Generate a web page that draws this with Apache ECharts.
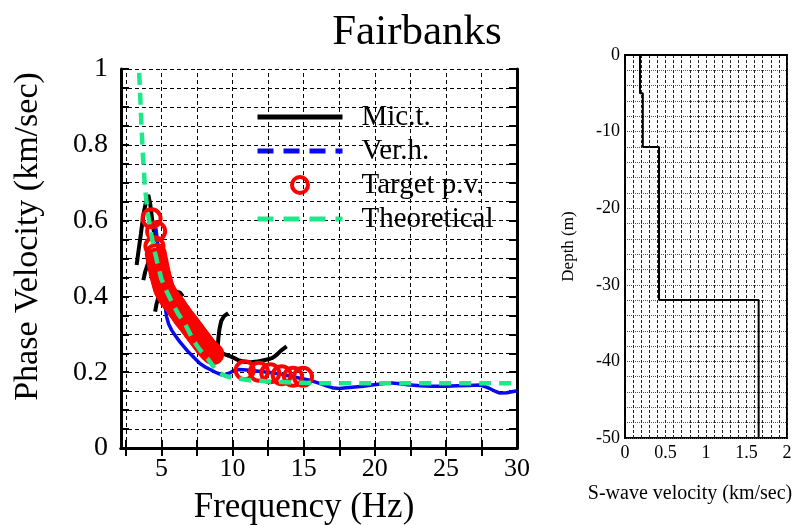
<!DOCTYPE html>
<html><head><meta charset="utf-8">
<script src="https://cdn.jsdelivr.net/npm/echarts@6/dist/echarts.min.js"></script>
<style>html,body{margin:0;padding:0;background:#fff}#c{width:798px;height:525px}</style>
</head><body><div id="c"></div><script>
const FONT = '"Liberation Serif", "DejaVu Serif", "Times New Roman", serif';

// ---- Phase velocity panel data (frequency Hz, km/sec) ----
const micSegA = [[3.25,0.483],[3.4,0.525],[3.55,0.565],[3.72,0.615],[3.9,0.648],[4.07,0.668],[4.2,0.645],[4.35,0.6],[4.5,0.56]];
const micSegB = [[3.72,0.443],[3.85,0.465],[4.0,0.482],[4.15,0.498],[4.35,0.51]];
const micSegC = [[4.55,0.36],[4.65,0.38],[4.8,0.4],[5.2,0.41],[5.8,0.415],[6.3,0.41],[6.5,0.4]];
const micSegD = [[8.95,0.265],[9.0,0.29],[9.08,0.315],[9.2,0.335],[9.4,0.348],[9.69,0.356]];
const micSegE = [[8.6,0.253],[9.0,0.252],[9.4,0.248],[9.9,0.241],[10.4,0.232],[10.9,0.227],[11.3,0.226],[11.7,0.228],[12.1,0.231],[12.5,0.234],[12.8,0.238],[13.1,0.246],[13.4,0.257],[13.8,0.268]];
const verH = [[4.6,0.58],[4.7,0.55],[4.8,0.515],[4.9,0.48],[5.0,0.445],[5.1,0.41],[5.24,0.377],[5.36,0.346],[5.5,0.327],[5.71,0.311],[6.0,0.295],[6.29,0.28],[6.6,0.266],[6.88,0.254],[7.3,0.238],[7.7,0.223],[8.1,0.213],[8.52,0.205],[8.9,0.198],[9.22,0.193],[9.5,0.194],[9.8,0.198],[10.15,0.206],[10.5,0.207],[11,0.206],[11.5,0.204],[12,0.202],[12.5,0.2],[13,0.197],[13.5,0.194],[14,0.19],[14.5,0.186],[15,0.182],[15.5,0.178],[16,0.172],[16.6,0.164],[17.1,0.158],[17.5,0.157],[18,0.159],[18.6,0.161],[19.2,0.163],[19.8,0.166],[20.4,0.169],[21.0,0.172],[21.6,0.17],[22.3,0.167],[23.2,0.164],[24,0.163],[25,0.163],[25.8,0.164],[26.6,0.165],[27.4,0.166],[27.9,0.16],[28.4,0.151],[28.8,0.145],[29.3,0.146],[30,0.151]];
const targetPV = [[4.3,0.606],[4.62,0.572],[4.5,0.532],[4.6,0.512],[4.66,0.5],
 [4.72,0.49],[4.78,0.478],[4.85,0.466],[4.92,0.455],[5.0,0.444],[5.08,0.432],[5.16,0.422],[5.25,0.414],[5.34,0.408],[5.44,0.402],[5.54,0.396],[5.64,0.391],[5.74,0.386],[5.84,0.382],[5.94,0.378],[6.04,0.372],[6.14,0.366],[6.24,0.361],[6.34,0.356],[6.44,0.35],[6.54,0.345],[6.64,0.34],[6.74,0.336],[6.84,0.331],[6.94,0.326],[7.04,0.321],[7.14,0.316],[7.24,0.311],[7.34,0.306],[7.44,0.301],[7.54,0.296],[7.64,0.291],[7.74,0.286],[7.84,0.281],[7.94,0.276],[8.04,0.271],[8.14,0.266],[8.24,0.262],[8.34,0.258],[8.44,0.254],[8.54,0.251],[8.64,0.248],
 [10.85,0.205],[11.85,0.201],[12.65,0.197],[13.45,0.192],[14.25,0.188],[14.95,0.188]];
const theoretical = [[3.43,0.99],[3.5,0.93],[3.6,0.84],[3.7,0.765],[3.83,0.69],[4.0,0.63],[4.2,0.58],[4.45,0.53],[4.7,0.49],[5.0,0.445],[5.4,0.41],[5.8,0.38],[6.2,0.352],[6.69,0.325],[7.2,0.287],[7.46,0.272],[7.7,0.259],[8.28,0.234],[8.75,0.21],[9.0,0.2],[9.5,0.19],[10.2,0.184],[11.2,0.179],[12.3,0.176],[13.5,0.174],[14.6,0.172],[16,0.171],[18,0.171],[20,0.171],[22,0.171],[24,0.171],[26,0.171],[28,0.171],[30,0.171]];
const freqGridValues = [2.5,5,7.5,10,12.5,15,17.5,20,22.5,25,27.5];
const freqLabelValues = [5,10,15,20,25,30];

// ---- S-wave profile (km/sec, depth m) ----
const layerVs = [0.185, 0.22, 0.42, 1.65];
const layerTops = [0, -5, -12, -32];
const profileBottom = -50;

const profile = [];
for (let i = 0; i < layerVs.length; i++) {
  const bot = i + 1 < layerTops.length ? layerTops[i + 1] : profileBottom;
  profile.push([layerVs[i], layerTops[i]], [layerVs[i], bot]);
}

const isMult = (v, s) => Math.abs(v / s - Math.round(v / s)) < 1e-6;
const fmt = v => String(Math.round(v * 100) / 100);
const black = '#000';
const GREEN = '#1ee88a';
const BLUE = '#0a0af0';
const hideSym = { opacity: 0, color: 'rgba(0,0,0,0)', borderWidth: 0 };

const micSeries = [micSegA, micSegB, micSegC, micSegD, micSegE].map(seg => ({
  name: 'Mic.t.', type: 'line', xAxisIndex: 0, yAxisIndex: 0, data: seg, symbol: 'none',
  lineStyle: { color: black, width: 4 }, itemStyle: { color: black }, z: 3
}));

const chart = echarts.init(document.getElementById('c'), null, { renderer: 'canvas' });
chart.setOption({
  animation: false,
  backgroundColor: '#fff',
  title: {
    text: 'Fairbanks', left: 412, top: 6, textAlign: 'center',
    textStyle: { fontFamily: FONT, fontSize: 43, fontWeight: 'normal', color: black }
  },
  legend: {
    left: 250, top: 97, orient: 'vertical', itemWidth: 85, itemHeight: 16, itemGap: 4,
    selectedMode: false,
    textStyle: { fontFamily: FONT, fontSize: 29, color: black, lineHeight: 30, padding: [0, 0, 0, 14] },
    data: [
      { name: 'Mic.t.', itemStyle: hideSym, lineStyle: { color: black, width: 5, type: 'solid' } },
      { name: 'Ver.h.', itemStyle: hideSym, lineStyle: { color: BLUE, width: 5, type: [16, 10] } },
      { name: 'Target p.v.', icon: 'circle', itemStyle: { color: 'rgba(255,255,255,0)', borderColor: '#ff0000', borderWidth: 4, opacity: 1 } },
      { name: 'Theoretical', itemStyle: hideSym, lineStyle: { color: GREEN, width: 5, type: [16, 10] } }
    ]
  },
  grid: [
    { left: 121, top: 69, right: 281, bottom: 77, outerBoundsMode: 'none', containLabel: false },
    { left: 625, top: 55, right: 11, bottom: 87, outerBoundsMode: 'none', containLabel: false,
      show: true, borderColor: black, borderWidth: 2, backgroundColor: 'rgba(0,0,0,0)' }
  ],
  xAxis: [
    { gridIndex: 0, type: 'value', min: 2.15, max: 30,
      name: 'Frequency (Hz)', nameLocation: 'middle', nameGap: 42,
      nameTextStyle: { fontFamily: FONT, fontSize: 35, color: black, padding: [0, 30, 0, 0] },
      axisLine: { lineStyle: { color: black, width: 3 } },
      axisTick: { inside: true, length: 8, customValues: freqGridValues, lineStyle: { color: black, width: 2 } },
      axisLabel: { customValues: freqLabelValues, fontFamily: FONT, fontSize: 26, color: black, margin: 8 },
      splitLine: { show: false } },
    { gridIndex: 0, type: 'value', min: 2.15, max: 30, position: 'top',
      axisLine: { lineStyle: { color: black, width: 3 } },
      axisTick: { inside: true, length: 8, customValues: freqGridValues, lineStyle: { color: black, width: 2 } },
      axisLabel: { show: false }, splitLine: { show: false } },
    { gridIndex: 1, type: 'value', min: 0, max: 2, interval: 0.1,
      name: 'S-wave velocity (km/sec)', nameLocation: 'middle', nameGap: 46,
      nameTextStyle: { fontFamily: FONT, fontSize: 20, color: black, padding: [0, 32, 0, 0] },
      axisLine: { lineStyle: { color: black, width: 2 } },
      axisTick: { show: false },
      axisLabel: { fontFamily: FONT, fontSize: 18, color: black, margin: 6,
        formatter: v => isMult(v, 0.5) ? fmt(v) : '', showMinLabel: true, showMaxLabel: true },
      splitLine: { show: true, lineStyle: { color: '#222', width: 1, type: [3, 2] } } }
  ],
  yAxis: [
    { gridIndex: 0, type: 'value', min: 0, max: 1, interval: 0.05,
      name: 'Phase Velocity (km/sec)', nameLocation: 'middle', nameGap: 76,
      nameTextStyle: { fontFamily: FONT, fontSize: 34, color: black, padding: [0, 0, 0, 44] },
      axisLine: { lineStyle: { color: black, width: 3 } },
      axisTick: { inside: true, length: 8, lineStyle: { color: black, width: 2 } },
      axisLabel: { fontFamily: FONT, fontSize: 28, color: black, margin: 13,
        formatter: v => isMult(v, 0.2) ? fmt(v) : '' },
      splitLine: { show: true, lineStyle: { color: black, width: 1, type: [4, 3] } } },
    { gridIndex: 0, type: 'value', min: 0, max: 1, interval: 0.05, position: 'right',
      axisLine: { lineStyle: { color: black, width: 3 } },
      axisTick: { inside: true, length: 8, lineStyle: { color: black, width: 2 } },
      axisLabel: { show: false }, splitLine: { show: false } },
    { gridIndex: 1, type: 'value', min: -50, max: 0, interval: 2,
      name: 'Depth (m)', nameLocation: 'middle', nameGap: 48,
      nameTextStyle: { fontFamily: FONT, fontSize: 17, color: black },
      axisLine: { lineStyle: { color: black, width: 2 } },
      axisTick: { show: false },
      axisLabel: { fontFamily: FONT, fontSize: 18, color: black, margin: 5,
        formatter: v => isMult(v, 10) ? fmt(v) : '' },
      splitLine: { show: true, lineStyle: { color: '#555', width: 1, type: [1, 1] } } }
  ],
  series: [
    { name: 'gridlines', type: 'line', xAxisIndex: 0, yAxisIndex: 0, data: [], silent: true, z: 1,
      markLine: { silent: true, symbol: ['none', 'none'], label: { show: false },
        lineStyle: { color: black, width: 1, type: [4, 3] }, emphasis: { disabled: true },
        data: freqGridValues.map(v => ({ xAxis: v })) } },
    ...micSeries,
    { name: 'Ver.h.', type: 'line', xAxisIndex: 0, yAxisIndex: 0, data: verH, symbol: 'none',
      lineStyle: { color: BLUE, width: 3.5 }, itemStyle: { color: BLUE }, z: 4 },
    { name: 'Target p.v.', type: 'scatter', xAxisIndex: 0, yAxisIndex: 0, data: targetPV,
      symbol: 'circle', symbolSize: 18,
      itemStyle: { color: 'rgba(255,255,255,0)', borderColor: '#ff0000', borderWidth: 4, opacity: 1 }, z: 5 },
    { name: 'Theoretical', type: 'line', xAxisIndex: 0, yAxisIndex: 0, data: theoretical, symbol: 'none',
      lineStyle: { color: GREEN, width: 4.5, type: [12, 8] }, itemStyle: { color: GREEN }, z: 6 },
    { name: 'profile', type: 'line', xAxisIndex: 2, yAxisIndex: 2, data: profile, symbol: 'none',
      lineStyle: { color: black, width: 2 }, itemStyle: { color: black }, z: 3 }
  ]
});
</script></body></html>
